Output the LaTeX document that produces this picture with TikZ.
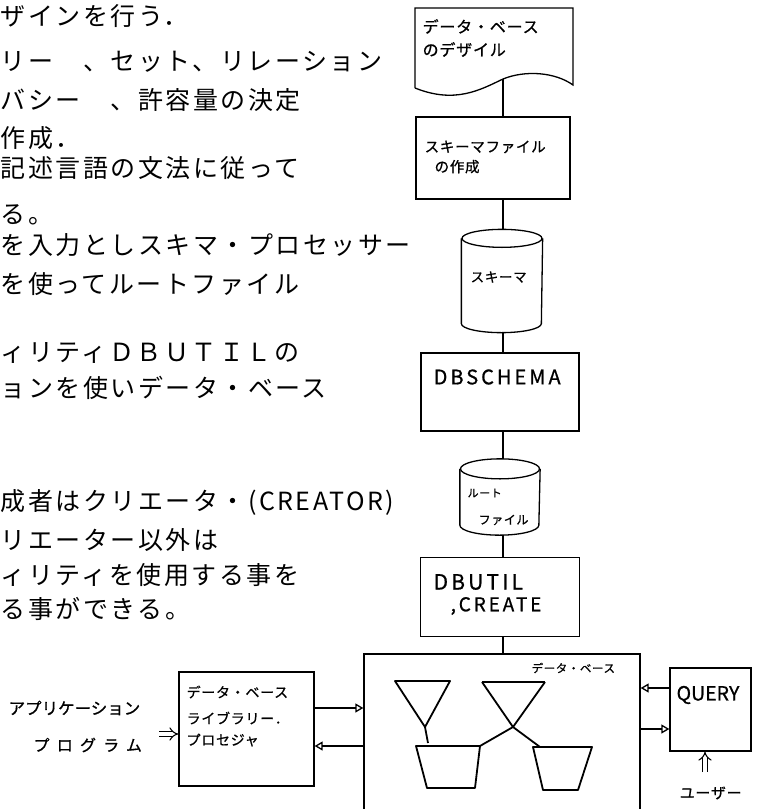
\documentclass[tikz,border=0pt]{standalone}
\usepackage{fontspec}
\newfontfamily\jpL[LetterSpace=10]{Noto Sans CJK JP}
\newfontfamily\jpD[LetterSpace=5,FakeBold=0.8]{Noto Sans CJK JP}
\newfontfamily\latD[LetterSpace=15,FakeBold=0.8]{Noto Sans CJK JP}
\newfontfamily\jpN[FakeBold=0.8]{Noto Sans CJK JP}
\usetikzlibrary{arrows.meta}
\begin{document}
\begin{tikzpicture}[x=1pt,y=-1pt,line width=1.3pt,
  lt/.style={anchor=west,inner sep=0pt,font=\jpL\fontsize{25}{25}\selectfont},
  dt/.style={anchor=west,inner sep=0pt,align=left},
  boxn/.style={draw,rectangle,inner sep=0pt},
  ghost/.style={rectangle,inner sep=0pt},
  arr/.style={-{Triangle[open,length=8pt,width=9pt]}},
  dbl/.style={double,double distance=3.5pt,line width=1.1pt,-{Implies}},
  thick2/.style={line width=1.8pt,line join=round}]
\useasboundingbox (0,0) rectangle (759,809);
\clip (0,0) rectangle (759,809);

% ---------------- left text ----------------
\node[lt] (t1)  at (0,16)  {ザインを行う．};
\node[lt] (t2)  at (0,62)  {リー　、セット、リレーション};
\node[lt] (t3)  at (0,100) {バシー　、許容量の決定};
\node[lt] (t4)  at (0,138) {作成．};
\node[lt] (t5)  at (0,168) {記述言語の文法に従って};
\node[lt] (t6)  at (0,215) {る。};
\node[lt] (t7)  at (0,245) {を入力としスキマ・プロセッサー};
\node[lt] (t8)  at (0,284) {を使ってルートファイル};
\node[lt] (t10) at (0,353) {ィリティＤＢＵＴＩＬの};
\node[lt] (t11) at (0,388) {ョンを使いデータ・ベース};
\node[lt] (t14) at (0,502) {成者はクリエータ・(CREATOR)};
\node[lt] (t15) at (0,540) {リエーター以外は};
\node[lt] (t16) at (0,575) {ィリティを使用する事を};
\node[lt] (t17) at (0,609) {る事ができる。};

% ---------------- right column ----------------
\coordinate (spine) at (503,0);
% document shape
\draw (415,88) -- (415,8) -- (573,8) -- (573,85)
  .. controls (555,72) and (525,70) .. (503,79)
  .. controls (480,90) and (455,104) .. (415,88);
\coordinate (docb) at (503,79);
\node[dt,font=\jpD\fontsize{16}{23}\selectfont] (doctxt) at (422,38) {データ・ベース\\のデザイル};

% schema file box
\node[boxn,minimum width=154pt,minimum height=82pt] (b2) at (493,158) {};
\node[dt,font=\jpD\fontsize{14.5}{20}\selectfont] (b2t) at (424,157) {スキーマファイル\\\hspace{10pt}の作成};

% cylinder 1
\node[ghost,minimum width=80pt,minimum height=102pt] (cyl1) at (502,281) {};
\draw ([yshift=-9pt]cyl1.north) ellipse [x radius=40pt,y radius=9pt];
\draw ([yshift=-9pt]cyl1.north west) -- ([yshift=9pt]cyl1.south west)
  arc[start angle=180,end angle=360,x radius=40pt,y radius=9pt]
  -- ([yshift=-9pt]cyl1.north east);
\node[dt,font=\jpD\fontsize{13.5}{15}\selectfont] (cyl1t) at (470,277) {スキーマ};

% DBSCHEMA box
\node[boxn,minimum width=158pt,minimum height=78pt] (b3) at (500,392) {};
\node[dt,font=\latD\fontsize{20}{22}\selectfont] (b3t) at (433,377) {DBSCHEMA};

% cylinder 2
\node[ghost,minimum width=79pt,minimum height=75pt] (cyl2) at (500,497) {};
\draw ([yshift=-10pt]cyl2.north) ellipse [x radius=39.5pt,y radius=10pt];
\draw ([yshift=-10pt]cyl2.north west) -- ([yshift=10pt]cyl2.south west)
  arc[start angle=180,end angle=360,x radius=39.5pt,y radius=10pt]
  -- ([yshift=-10pt]cyl2.north east);
\node[dt,font=\jpD\fontsize{11}{12}\selectfont] (cyl2a) at (467,493) {ルート};
\node[dt,font=\jpD\fontsize{12}{13}\selectfont] (cyl2b) at (478,520) {ファイル};

% DBUTIL box
\node[boxn,minimum width=159pt,minimum height=79pt] (b4) at (500,597) {};
\node[dt,font=\latD\fontsize{21}{23}\selectfont] (b4a) at (433,582) {DBUTIL};
\node[dt,font=\latD\fontsize{19}{20}\selectfont] (b4b) at (450,606) {,CREATE};

% data base big box (bottom cut by page)
\node[boxn,minimum width=276pt,minimum height=176pt] (db) at (502,742) {};
\node[dt,font=\jpD\fontsize{11.5}{13}\selectfont] (dbt) at (531,668) {データ・ベース};

% spine connectors
\draw (docb) -- (b2.north -| spine);
\draw (b2.south -| spine) -- (cyl1.north -| spine);
\draw (cyl1.south -| spine) -- (b3.north -| spine);
\draw (b3.south -| spine) -- (cyl2.north -| spine);
\draw (cyl2.south -| spine) -- (b4.north -| spine);
\draw (b4.south -| spine) -- (db.north -| spine);

% funnels and buckets inside the data base
\draw[thick2] (395,681) -- (450,681) -- (425,727) -- cycle;
\draw[thick2] (425,727) -- (428,743);
\draw[thick2] (482,682) -- (545,682);
\draw[thick2] (482,682) -- (513,727) -- (540,747);
\draw[thick2] (545,682) -- (513,727) -- (480,746);
\draw[thick2] (416,746) -- (480,746) -- (475,788) -- (427,788) -- cycle;
\draw[thick2] (533,747) -- (592,747) -- (578,790) -- (543,790) -- cycle;

% library box
\node[boxn,minimum width=135pt,minimum height=114pt] (lib) at (246.5,729) {};
\node[dt,font=\jpD\fontsize{14}{15}\selectfont] (lib1) at (186,692) {データ・ベース};
\node[dt,font=\jpD\fontsize{14}{15}\selectfont] (lib2) at (186,718) {ライブラリー．};
\node[dt,font=\jpD\fontsize{14}{15}\selectfont] (lib3) at (186,740) {プロセジャ};

% application program
\node[dt,font=\jpN\fontsize{16.5}{18}\selectfont] (app1) at (8,708) {アプリケーション};
\node[dt,font=\jpN\fontsize{16}{18}\selectfont\addfontfeature{LetterSpace=45}] (app2) at (33,745) {プログラム};
\coordinate (appin) at (159,734);
\draw[dbl] (appin) -- (lib.west |- appin);

% arrows library <-> data base
\coordinate (ya) at (0,708);
\coordinate (yb) at (0,746);
\draw[arr] (lib.east |- ya) -- (db.west |- ya);
\draw[arr] (db.west |- yb) -- (lib.east |- yb);

% QUERY
\node[boxn,minimum width=81pt,minimum height=83pt] (q) at (710.5,709.5) {};
\node[font=\jpN\fontsize{19.5}{21}\selectfont,inner sep=0pt] (qt) at (708,695) {QUERY};
\coordinate (yc) at (0,688);
\coordinate (yd) at (0,729);
\draw[arr] (q.west |- yc) -- (db.east |- yc);
\draw[arr] (db.east |- yd) -- (q.west |- yd);
\coordinate (uin) at (705,772);
\draw[dbl] (uin) -- (q.south -| uin);
\node[dt,font=\jpD\fontsize{15}{16}\selectfont] (user) at (679,793) {ユーザー};
\end{tikzpicture}
\end{document}
